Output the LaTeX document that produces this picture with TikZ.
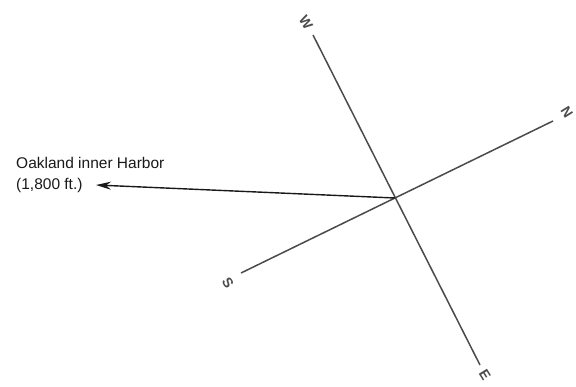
\documentclass[tikz,border=0pt]{standalone}
\usepackage{fontspec}
\setmainfont{Liberation Sans}
\usetikzlibrary{arrows.meta,positioning}
\definecolor{axisgray}{RGB}{75,75,75}
\definecolor{inkgray}{RGB}{25,25,25}

\begin{document}
\begin{tikzpicture}[x=1pt, y=-1pt,
  axis/.style={draw=axisgray, line width=1.5pt},
  arrow/.style={-{Stealth[length=15pt, width=8pt]}, line width=1.4pt, inkgray},
  dirlabel/.style={font=\fontsize{14}{14}\selectfont\bfseries, text=axisgray, rotate=-58, inner sep=0pt},
  label/.style={font=\fontsize{15.5}{21}\selectfont, text=inkgray, align=left, inner sep=0pt}
]
\useasboundingbox (0,0) rectangle (576,387);

% Compass axes
\coordinate (c) at (395,198);
\coordinate (wend) at (313,35);
\coordinate (eend) at (480,365);
\coordinate (send) at (241,273);
\coordinate (nend) at (553,121);
\draw[axis] (wend) -- (eend);
\draw[axis] (send) -- (nend);

% Direction letters
\node[dirlabel] (w) at (306,23) {W};
\node[dirlabel] (e) at (485,375) {E};
\node[dirlabel] (s) at (228,283) {S};
\node[dirlabel] (n) at (567,112) {N};

% Harbor label and arrow
\node[label, anchor=north west] (harbor) at (16,157) {Oakland inner Harbor\\(1,800 ft.)};
\coordinate (tip) at (96,185);
\draw[arrow] (c) -- (tip);
\end{tikzpicture}
\end{document}
